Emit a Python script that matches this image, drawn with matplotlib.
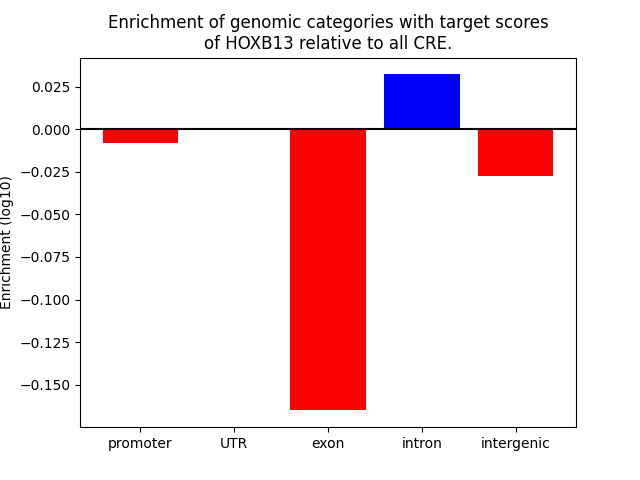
import matplotlib
matplotlib.use('Agg')
import matplotlib.pyplot as plt

categories = ['promoter', 'UTR', 'exon', 'intron', 'intergenic']
enrichment = [-0.0082, 0.0, -0.165, 0.0321, -0.0276]
colors = ['blue' if v > 0 else 'red' for v in enrichment]

fig, ax = plt.subplots(figsize=(6.4, 4.8), dpi=100)
ax.bar(range(len(categories)), enrichment, color=colors)
ax.axhline(0, color='black', lw=1.5)
ax.set_xticks(range(len(categories)))
ax.set_xticklabels(categories)
ax.set_ylabel('Enrichment (log10)')
ax.set_title('Enrichment of genomic categories with target scores\nof HOXB13 relative to all CRE.')

fig.savefig('out.png', dpi=100)
